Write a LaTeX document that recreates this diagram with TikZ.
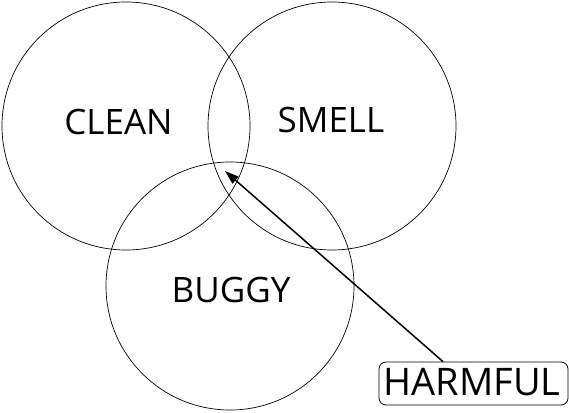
\documentclass[tikz,border=0pt]{standalone}
\usepackage{fontspec}
\setmainfont{Open Sans}
\usetikzlibrary{arrows.meta}
\begin{document}
\begin{tikzpicture}[x=1pt,y=-1pt,
  setcircle/.style={draw,line width=0.7pt},
  setlabel/.style={inner sep=0pt,font=\fontsize{35}{39}\selectfont},
  tagbox/.style={draw,line width=0.8pt,rounded corners=7pt,inner sep=0pt,minimum width=189pt,minimum height=43pt},
  tagtext/.style={inner sep=0pt,font=\fontsize{38}{42}\selectfont}]
\useasboundingbox (0,0) rectangle (569,412);
\draw[setcircle] (126,126) circle[radius=124];
\draw[setcircle] (332,126) circle[radius=124];
\draw[setcircle] (230,286) circle[radius=124];
\node[setlabel] (clean) at (118.5,121.5) {CLEAN};
\node[setlabel] (smell) at (331,120) {SMELL};
\node[setlabel] (buggy) at (231,290) {BUGGY};
\node[tagbox] (harmful) at (473.5,383.5) {};
\node[tagtext] (harmfultext) at (472,382.5) {HARMFUL};
\coordinate (tip) at (225,171);
\draw[line width=1.5pt,-{Triangle[length=14pt,width=9pt]}] (harmful.north -| 443,0) -- (tip);
\end{tikzpicture}
\end{document}
